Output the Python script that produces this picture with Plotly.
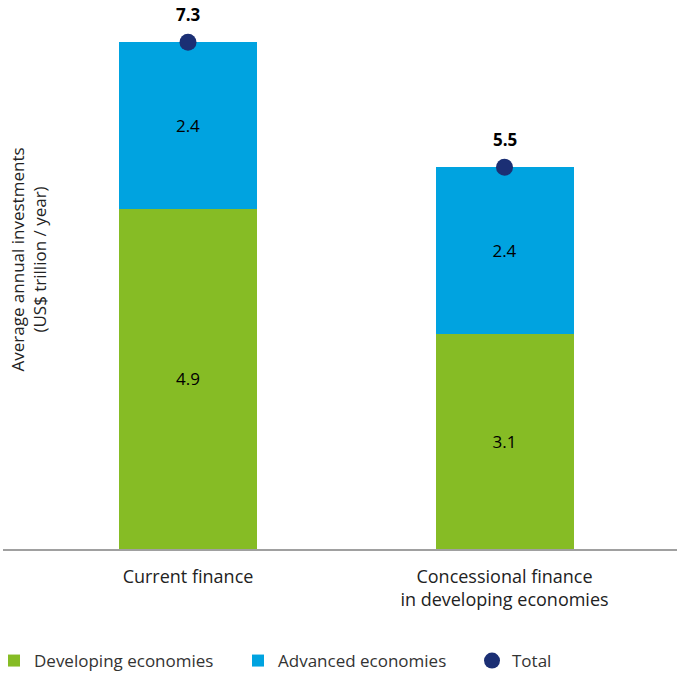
import plotly.graph_objects as go

categories = ["Current finance", "Concessional finance<br>in developing economies"]
developing = [4.9, 3.1]
advanced = [2.4, 2.4]
totals = [7.3, 5.5]

GREEN = "#86BC25"
BLUE = "#00A3E0"
NAVY = "#1B2F74"
FONT = "Open Sans"

fig = go.Figure()
fig.add_trace(go.Bar(
    x=categories, y=developing, name="Developing economies", legend="legend",
    marker=dict(color=GREEN, line=dict(width=0)),
    text=[f"{v:.1f}" for v in developing], textposition="inside",
    insidetextanchor="middle", textfont=dict(color="black", size=17, family=FONT),
    textangle=0,
))
fig.add_trace(go.Bar(
    x=categories, y=advanced, name="Advanced economies", legend="legend2",
    marker=dict(color=BLUE, line=dict(width=0)),
    text=[f"{v:.1f}" for v in advanced], textposition="inside",
    insidetextanchor="middle", textfont=dict(color="black", size=17, family=FONT),
    textangle=0,
))
fig.add_trace(go.Scatter(
    x=categories, y=totals, name="Total", mode="markers", legend="legend3",
    marker=dict(color=NAVY, size=17),
))
for c, v in zip(categories, totals):
    fig.add_annotation(x=c, y=v, text=f"<b>{v:.1f}</b>", showarrow=False,
                       yshift=28, font=dict(color="black", size=17, family=FONT))

leg_common = dict(orientation="h", xref="container", yref="container", xanchor="left",
                  yanchor="middle", y=13 / 674, bgcolor="rgba(0,0,0,0)",
                  font=dict(size=17, color="#333333", family=FONT))
fig.update_layout(
    width=677, height=674,
    barmode="stack", bargap=0.564,
    paper_bgcolor="white", plot_bgcolor="white",
    margin=dict(l=3, r=0, t=20, b=125, autoexpand=False),
    font=dict(family=FONT, size=17, color="#222222"),
    showlegend=True,
    legend=dict(x=2 / 677, indentation=-8, **leg_common),
    legend2=dict(x=238 / 677, **leg_common),
    legend3=dict(x=472 / 677, **leg_common),
    xaxis=dict(range=[-0.5845, 1.545], showgrid=False, zeroline=False,
               showline=True, linecolor="#A0A0A0", linewidth=2, automargin=False,
               ticks="", ticklabelstandoff=10,
               tickfont=dict(size=18, color="#222222", family=FONT)),
    yaxis=dict(range=[0, 7.62], showgrid=False, zeroline=False, showline=False,
               showticklabels=False, ticks="", automargin=False),
)
fig.add_annotation(
    text="Average annual investments<br>(US$ trillion / year)",
    xref="paper", yref="paper", x=(27.5 - 3) / 674, y=(549 - 260) / 529,
    xanchor="center", yanchor="middle",
    textangle=-90, showarrow=False, font=dict(size=17, color="#222222", family=FONT),
)

fig.write_html("out.html", config={"displayModeBar": False},
               post_script="document.body.style.margin='0';")
